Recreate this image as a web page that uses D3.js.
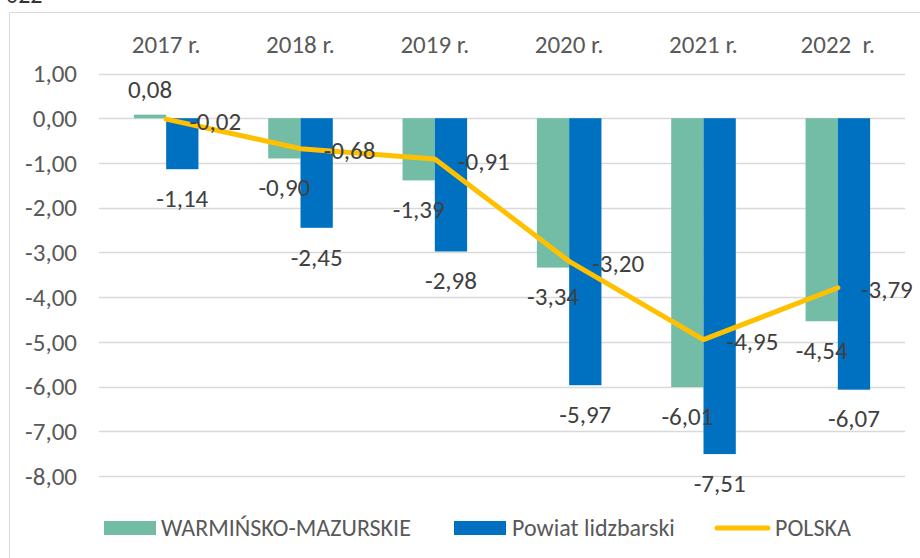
<!DOCTYPE html>
<html><head><meta charset="utf-8">
<script src="https://cdn.jsdelivr.net/npm/d3@7"></script>
<style>
body{margin:0;background:#fff;}
svg{display:block;font-family:Carlito,Calibri,Lato,sans-serif;}
</style></head>
<body>
<svg id="c" width="920" height="558"></svg>
<script>
const categories = ["2017 r.", "2018 r.", "2019 r.", "2020 r.", "2021 r.", "2022  r."];
const seriesNames = ["WARMIŃSKO-MAZURSKIE", "Powiat lidzbarski", "POLSKA"];
const warminsko = [0.08, -0.90, -1.39, -3.34, -6.01, -4.54];
const powiat = [-1.14, -2.45, -2.98, -5.97, -7.51, -6.07];
const polska = [-0.02, -0.68, -0.91, -3.20, -4.95, -3.79];
const yTicks = [1, 0, -1, -2, -3, -4, -5, -6, -7, -8];
const colors = ["#73BDA6", "#0070C0", "#FFC000"];

const FS = 24, FN = 25;
const svg = d3.select("#c");
const fmt = v => d3.format(".2f")(v).replace(".", ",").replace("−", "-");

const y = d3.scaleLinear().domain([-8, 1]).range([476, 73.5]);
const x0 = d3.scaleBand().domain(categories).range([99, 905]).padding(0);
const x1 = d3.scaleBand().domain(["a", "b"]).range([0, x0.bandwidth()]).paddingInner(0).paddingOuter(1.08);

// frame
svg.append("path").attr("d", "M9.5,558 V12.5 H920").attr("fill", "none").attr("stroke", "#d9d9d9").attr("stroke-width", 1);
// clipped text at top (partially visible in reference)
svg.append("text").attr("x", 6).attr("y", 3).attr("font-size", FS).attr("fill", "#333").text("022");

// gridlines
svg.append("g").selectAll("line").data(yTicks).join("line")
  .attr("x1", 99).attr("x2", 905)
  .attr("y1", d => Math.round(y(d)) + 0.5).attr("y2", d => Math.round(y(d)) + 0.5)
  .attr("stroke", "#d9d9d9").attr("stroke-width", 1.3);

// y tick labels
svg.append("g").selectAll("text").data(yTicks).join("text")
  .attr("x", 77).attr("y", d => y(d)).attr("dy", "0.35em")
  .attr("text-anchor", "end").attr("font-size", FN).attr("fill", "#595959")
  .text(d => fmt(d));

// category labels on top
svg.append("g").selectAll("text").data(categories).join("text")
  .attr("x", d => x0(d) + x0.bandwidth() / 2).attr("y", 44).attr("dy", "0.35em")
  .attr("text-anchor", "middle").attr("font-size", FN).attr("fill", "#595959")
  .style("white-space", "pre").attr("xml:space", "preserve")
  .text(d => d);

const bars = [
  {key: "a", vals: warminsko, color: colors[0]},
  {key: "b", vals: powiat, color: colors[1]}
];
bars.forEach(s => {
  const g = svg.append("g");
  g.selectAll("rect").data(s.vals).join("rect")
    .attr("x", (d, i) => x0(categories[i]) + x1(s.key))
    .attr("width", x1.bandwidth())
    .attr("y", d => Math.min(y(d), y(0)))
    .attr("height", d => Math.abs(y(d) - y(0)))
    .attr("fill", s.color);
});

// line
const lineGen = d3.line().x((d, i) => x0(categories[i]) + x0.bandwidth() / 2).y(d => y(d));
svg.append("path").datum(polska).attr("d", lineGen)
  .attr("fill", "none").attr("stroke", colors[2]).attr("stroke-width", 5)
  .attr("stroke-linejoin", "round").attr("stroke-linecap", "round");

// bar labels
bars.forEach(s => {
  svg.append("g").selectAll("text").data(s.vals).join("text")
    .attr("x", (d, i) => x0(categories[i]) + x1(s.key) + x1.bandwidth() / 2)
    .attr("y", d => d >= 0 ? y(d) - 25 : y(d) + 29)
    .attr("dy", "0.35em").attr("text-anchor", "middle")
    .attr("font-size", FN).attr("fill", "#404040")
    .text(d => fmt(d));
});
// line labels
svg.append("g").selectAll("text").data(polska).join("text")
  .attr("x", (d, i) => x0(categories[i]) + x0.bandwidth() / 2 + 23)
  .attr("y", d => y(d) + 2)
  .attr("dy", "0.35em").attr("text-anchor", "start")
  .attr("font-size", FN).attr("fill", "#404040")
  .text(d => fmt(d));

// legend
const lg = svg.append("g");
const legendX = [104, 454, 715];
const textX = [161, 512, 775];
[0, 1].forEach(i => {
  lg.append("rect").attr("x", legendX[i]).attr("y", 521).attr("width", 52).attr("height", 14).attr("fill", colors[i]);
});
lg.append("line").attr("x1", legendX[2] + 2).attr("x2", legendX[2] + 53).attr("y1", 528).attr("y2", 528)
  .attr("stroke", colors[2]).attr("stroke-width", 5).attr("stroke-linecap", "round");
seriesNames.forEach((n, i) => {
  lg.append("text").attr("x", textX[i]).attr("y", 528).attr("dy", "0.35em")
    .attr("font-size", FS).attr("fill", "#595959").text(n);
});
</script>
</body></html>
